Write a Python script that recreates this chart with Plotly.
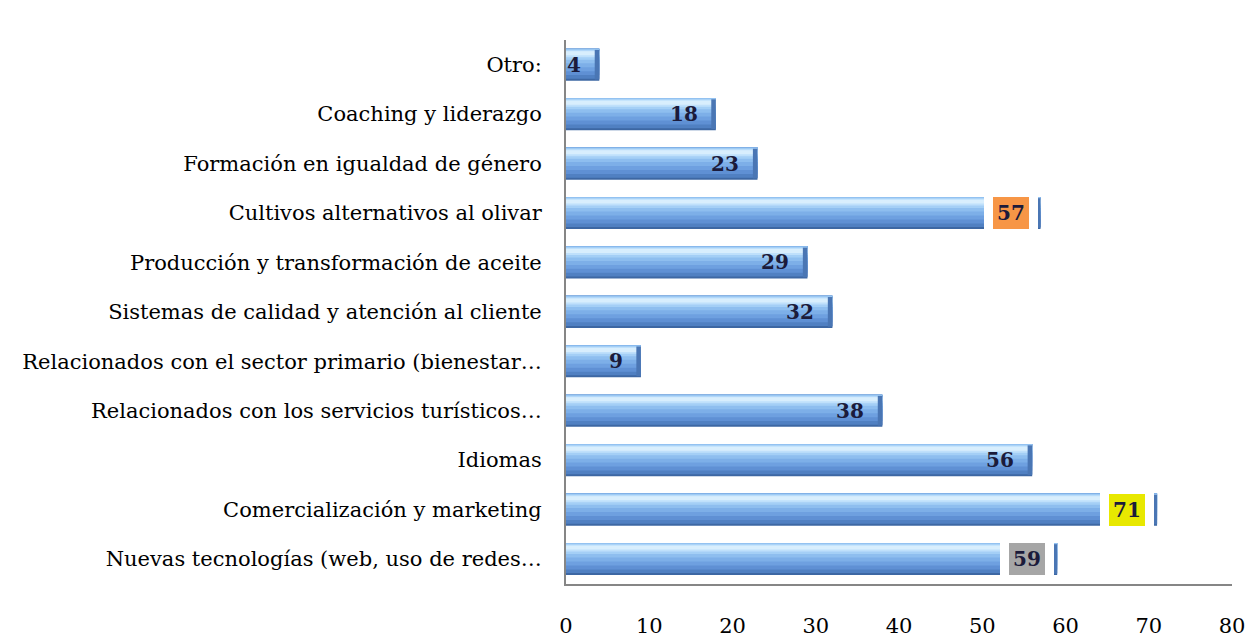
import plotly.graph_objects as go

categories = [
    "Nuevas tecnologías (web, uso de redes…",
    "Comercialización y marketing",
    "Idiomas",
    "Relacionados con los servicios turísticos…",
    "Relacionados con el sector primario (bienestar…",
    "Sistemas de calidad y atención al cliente",
    "Producción y transformación de aceite",
    "Cultivos alternativos al olivar",
    "Formación en igualdad de género",
    "Coaching y liderazgo",
    "Otro:",
]
values = [59, 71, 56, 38, 9, 32, 29, 57, 23, 18, 4]
highlights = {
    "Nuevas tecnologías (web, uso de redes…": "#a6a6a6",
    "Comercialización y marketing": "#e8e800",
    "Cultivos alternativos al olivar": "#f79646",
}
x_ticks = [0, 10, 20, 30, 40, 50, 60, 70, 80]

FONT = "DejaVu Serif"
LABEL_COLOR = "#1b1b3b"

fig = go.Figure()

# stacked bands (bottom, top) in category units to mimic the bevelled gradient
bands = [
    (-0.325, 0.325, "#3d67a3"),
    (-0.285, 0.325, "#5080c2"),
    (-0.21, 0.325, "#5f90d4"),
    (-0.13, 0.325, "#6ea0e0"),
    (-0.05, 0.325, "#7dafe8"),
    (0.03, 0.325, "#8ebeef"),
    (0.10, 0.31, "#a4cff6"),
    (0.15, 0.29, "#bfe0fb"),
    (0.19, 0.27, "#d8eefd"),
]
for lo, hi, color in bands:
    fig.add_trace(
        go.Bar(
            y=categories,
            x=values,
            orientation="h",
            width=hi - lo,
            offset=lo,
            marker={"color": color, "line": {"width": 0}},
            hovertemplate="%{y}: %{x}<extra></extra>",
            showlegend=False,
        )
    )

# darker bevel at the end of each bar
cap = 0.55
fig.add_trace(
    go.Bar(
        y=categories,
        x=[cap] * len(values),
        base=[v - cap for v in values],
        orientation="h",
        width=0.6,
        offset=-0.3,
        marker={"color": "#4a76b4", "line": {"width": 0}},
        hoverinfo="skip",
        showlegend=False,
    )
)

for cat, val in zip(categories, values):
    if cat in highlights:
        fig.add_annotation(
            x=val,
            y=cat,
            xanchor="right",
            xshift=-3,
            text=f"<b>{val}</b>",
            showarrow=False,
            font={"family": FONT, "size": 20, "color": LABEL_COLOR},
            bgcolor=highlights[cat],
            bordercolor="white",
            borderwidth=9,
            borderpad=4,
        )
    else:
        fig.add_annotation(
            x=val,
            y=cat,
            xanchor="right",
            xshift=-16,
            text=f"<b>{val}</b>",
            showarrow=False,
            font={"family": FONT, "size": 20, "color": LABEL_COLOR},
        )

fig.update_layout(
    barmode="overlay",
    width=1258,
    height=639,
    plot_bgcolor="white",
    paper_bgcolor="white",
    margin={"l": 566, "r": 26, "t": 40, "b": 55, "autoexpand": False},
    font={"family": FONT, "size": 21, "color": "black"},
    xaxis={
        "range": [0, 80],
        "tickvals": x_ticks,
        "showgrid": False,
        "zeroline": False,
        "showline": True,
        "linecolor": "#868686",
        "linewidth": 2,
        "ticks": "",
        "ticklabelstandoff": 22,
        "tickfont": {"size": 21},
    },
    yaxis={
        "showgrid": False,
        "showline": True,
        "linecolor": "#868686",
        "linewidth": 2,
        "ticks": "",
        "ticklabelstandoff": 18,
        "tickfont": {"size": 21},
    },
)

# drop the browser's default page margin so the figure fills the window
fig.write_html(
    "out.html",
    config={"displayModeBar": False},
    post_script="document.body.style.margin='0';document.body.style.overflow='hidden';",
)
